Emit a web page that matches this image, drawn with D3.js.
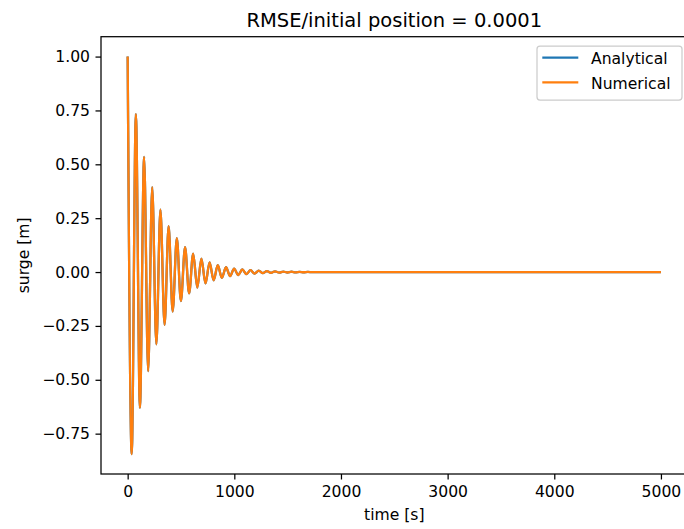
<!DOCTYPE html>
<html>
<head>
<meta charset="utf-8">
<script src="https://cdn.jsdelivr.net/npm/d3@7"></script>
<style>
  body { margin: 0; background: #fff; }
  svg { display: block; font-family: "DejaVu Sans", sans-serif; }
</style>
</head>
<body>
<svg id="chart" width="684" height="529"></svg>
<script>
const timeSec = [
    0, 38, 77, 115, 154, 192, 230, 269, 307, 346,
    384, 422, 461, 499, 538, 576, 614, 653, 691, 730,
    768, 806, 845, 883, 922, 960, 998, 1037, 1075, 1114,
    1152, 1190, 1229, 1267, 1306, 1344, 1382, 1421, 1459, 1498,
    1536, 1574, 1613, 1651, 1690, 1728, 1766, 5000
];
const analyticalSurge = [
    1.0, -0.845, 0.733, -0.63, 0.534, -0.46, 0.394, -0.335, 0.29, -0.245,
    0.213, -0.183, 0.157, -0.135, 0.116, -0.099, 0.085, -0.072, 0.062, -0.053,
    0.045, -0.038, 0.032, -0.027, 0.023, -0.019, 0.016, -0.014, 0.012, -0.010,
    0.0085, -0.0072, 0.0062, -0.0053, 0.0045, -0.0038, 0.0033, -0.0028, 0.0024, -0.002,
    0.0017, -0.0014, 0.0012, -0.001, 0.0008, -0.0006, 0, 0
];
// the numerical solution sits on top of the analytical one at this scale
const numericalSurge = analyticalSurge.slice();

const xTicks = [0, 1000, 2000, 3000, 4000, 5000];
const yTicks = [-0.75, -0.5, -0.25, 0, 0.25, 0.5, 0.75, 1.0];
const seriesNames = ["Analytical", "Numerical"];
const colors = ["#1f77b4", "#ff7f0e"];
const title = "RMSE/initial position = 0.0001";

const svg = d3.select("#chart");
const plot = {left: 101, right: 687.6, top: 36.7, bottom: 474};
const fontSize = "15.6px";

// matplotlib style 5% margins around the data
function padded(values) {
    const [lo, hi] = d3.extent(values);
    const m = (hi - lo) * 0.05;
    return [lo - m, hi + m];
}

const x = d3.scaleLinear().domain(padded(timeSec)).range([plot.left, plot.right]);
const y = d3.scaleLinear().domain(padded(analyticalSurge.concat(numericalSurge))).range([plot.bottom, plot.top]);

const series = [analyticalSurge, numericalSurge].map((vals, i) => ({
    name: seriesNames[i],
    color: colors[i],
    points: vals.map((v, j) => [timeSec[j], v])
}));

const line = d3.line()
    .x(d => x(d[0]))
    .y(d => y(d[1]))
    .curve(d3.curveMonotoneX);

svg.append("defs").append("clipPath").attr("id", "plotclip")
    .append("rect").attr("x", plot.left).attr("y", plot.top)
    .attr("width", plot.right - plot.left).attr("height", plot.bottom - plot.top);

svg.append("g").attr("clip-path", "url(#plotclip)")
    .selectAll("path").data(series).join("path")
    .attr("d", d => line(d.points))
    .attr("fill", "none")
    .attr("stroke", d => d.color)
    .attr("stroke-width", 2.3)
    .attr("stroke-linejoin", "round");

// axes
const xAxis = svg.append("g")
    .attr("transform", `translate(0,${plot.bottom})`)
    .call(d3.axisBottom(x).tickValues(xTicks).tickFormat(d3.format("d")).tickSize(5.5).tickPadding(6));
const yAxis = svg.append("g")
    .attr("transform", `translate(${plot.left},0)`)
    .call(d3.axisLeft(y).tickValues(yTicks).tickFormat(d3.format(".2f")).tickSize(5.5).tickPadding(5.5));

for (const ax of [xAxis, yAxis]) {
    ax.select(".domain").remove();
    ax.selectAll(".tick line").attr("stroke", "#000").attr("stroke-width", 1.25);
    ax.selectAll(".tick text")
        .attr("fill", "#000")
        .style("font-size", fontSize)
        .style("font-family", "DejaVu Sans");
}

// frame (the right spine falls outside the picture)
svg.append("rect")
    .attr("x", plot.left).attr("y", plot.top)
    .attr("width", plot.right - plot.left).attr("height", plot.bottom - plot.top)
    .attr("fill", "none").attr("stroke", "#000").attr("stroke-width", 1.25);

svg.append("text")
    .attr("x", (plot.left + plot.right) / 2).attr("y", 26.5)
    .attr("text-anchor", "middle")
    .style("font-size", "19.5px")
    .text(title);

svg.append("text")
    .attr("x", (plot.left + plot.right) / 2).attr("y", 520)
    .attr("text-anchor", "middle")
    .style("font-size", fontSize)
    .text("time [s]");

svg.append("text")
    .attr("transform", `translate(29,${(plot.top + plot.bottom) / 2}) rotate(-90)`)
    .attr("text-anchor", "middle")
    .style("font-size", fontSize)
    .text("surge [m]");

// legend
const legend = svg.append("g");
legend.append("rect")
    .attr("x", 537).attr("y", 46).attr("width", 145).attr("height", 54)
    .attr("rx", 3)
    .attr("fill", "#fff").attr("fill-opacity", 0.8)
    .attr("stroke", "#ccc").attr("stroke-width", 1.25);

const item = legend.selectAll("g.item").data(series).join("g")
    .classed("item", true)
    .attr("transform", (d, i) => `translate(0,${57.7 + i * 24.6})`);
item.append("line")
    .attr("x1", 542.3).attr("x2", 578.3)
    .attr("stroke", d => d.color).attr("stroke-width", 2.3);
item.append("text")
    .attr("x", 591).attr("y", 6.5)
    .style("font-size", fontSize)
    .text(d => d.name);
</script>
</body>
</html>
